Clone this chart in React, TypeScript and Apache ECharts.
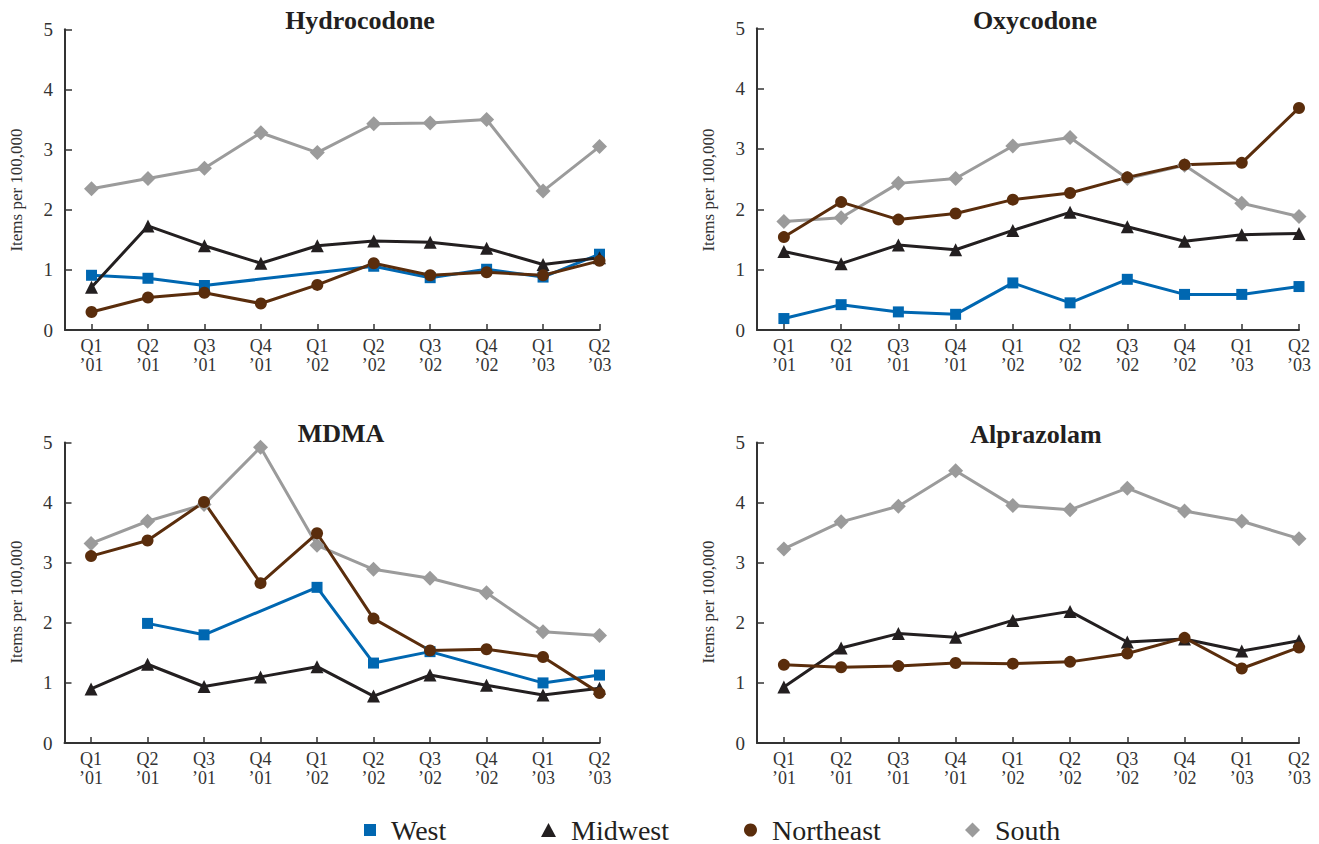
import React, { useEffect, useRef } from 'react';
import * as echarts from 'echarts';

const quarters = ['Q1\n\u201901', 'Q2\n\u201901', 'Q3\n\u201901', 'Q4\n\u201901', 'Q1\n\u201902', 'Q2\n\u201902', 'Q3\n\u201902', 'Q4\n\u201902', 'Q1\n\u201903', 'Q2\n\u201903'];
const yTicks = [0, 1, 2, 3, 4, 5];

// Hydrocodone
const hydroWest = [0.91, 0.86, 0.74, null, null, 1.06, 0.87, 1.01, 0.88, 1.26];
const hydroMidwest = [0.71, 1.73, 1.40, 1.11, 1.40, 1.48, 1.46, 1.36, 1.09, 1.20];
const hydroNortheast = [0.30, 0.54, 0.62, 0.44, 0.75, 1.11, 0.91, 0.96, 0.91, 1.15];
const hydroSouth = [2.35, 2.52, 2.69, 3.28, 2.95, 3.43, 3.44, 3.50, 2.31, 3.05];

// Oxycodone
const oxyWest = [0.19, 0.42, 0.30, 0.26, 0.78, 0.45, 0.84, 0.59, 0.59, 0.72];
const oxyMidwest = [1.30, 1.10, 1.41, 1.33, 1.65, 1.95, 1.71, 1.47, 1.58, 1.60];
const oxyNortheast = [1.54, 2.12, 1.83, 1.93, 2.16, 2.27, 2.53, 2.74, 2.77, 3.68];
const oxySouth = [1.80, 1.86, 2.43, 2.51, 3.05, 3.19, 2.51, 2.73, 2.10, 1.88];

// MDMA
const mdmaWest = [null, 1.99, 1.80, null, 2.59, 1.33, 1.52, null, 1.00, 1.13];
const mdmaMidwest = [0.90, 1.31, 0.94, 1.10, 1.27, 0.78, 1.13, 0.96, 0.80, 0.91];
const mdmaNortheast = [3.11, 3.37, 4.01, 2.66, 3.49, 2.07, 1.54, 1.56, 1.43, 0.83];
const mdmaSouth = [3.32, 3.69, 3.97, 4.92, 3.29, 2.89, 2.74, 2.50, 1.85, 1.79];

// Alprazolam
const alpMidwest = [0.93, 1.58, 1.82, 1.76, 2.04, 2.19, 1.68, 1.73, 1.53, 1.70];
const alpNortheast = [1.30, 1.26, 1.28, 1.33, 1.32, 1.35, 1.49, 1.75, 1.24, 1.59];
const alpSouth = [3.23, 3.68, 3.94, 4.53, 3.95, 3.88, 4.24, 3.86, 3.69, 3.40];

const titles = ['Hydrocodone', 'Oxycodone', 'MDMA', 'Alprazolam'];

const FONT = 'Liberation Serif';
const INK = '#231f20';
const AXIS = '#333333';

const regionStyle: Record<string, { color: string; symbol: string; size: number }> = {
  West: { color: '#0067b1', symbol: 'rect', size: 11 },
  Midwest: { color: '#231f20', symbol: 'triangle', size: 13 },
  Northeast: { color: '#5a2d0c', symbol: 'circle', size: 12 },
  South: { color: '#9b9b9b', symbol: 'diamond', size: 15 },
};

const panels = [
  { grid: { left: 65, top: 29.3, width: 534.5, height: 300.7 }, title: [360, 20], yName: [16, 190], data: { South: hydroSouth, West: hydroWest, Midwest: hydroMidwest, Northeast: hydroNortheast } },
  { grid: { left: 757, top: 28.3, width: 542, height: 301.7 }, title: [1035, 20], yName: [708, 190], data: { South: oxySouth, West: oxyWest, Midwest: oxyMidwest, Northeast: oxyNortheast } },
  { grid: { left: 64.5, top: 442.5, width: 535, height: 300.5 }, title: [341, 433], yName: [16, 602], data: { South: mdmaSouth, West: mdmaWest, Midwest: mdmaMidwest, Northeast: mdmaNortheast } },
  { grid: { left: 757, top: 442.5, width: 542, height: 300.5 }, title: [1036, 434], yName: [708, 602], data: { South: alpSouth, Midwest: alpMidwest, Northeast: alpNortheast } },
];

const legendPos = [
  { name: 'West', left: 359, w: 12, h: 12 },
  { name: 'Midwest', left: 536, w: 15, h: 14 },
  { name: 'Northeast', left: 739, w: 13, h: 13 },
  { name: 'South', left: 960, w: 15, h: 15 },
];

const App: React.FC = () => {
  const chartRef = useRef<HTMLDivElement>(null);

  useEffect(() => {
    if (!chartRef.current) return;
    const chart = echarts.init(chartRef.current, null, { renderer: 'svg' });

    const idx = quarters.map((_, i) => i);

    const option: any = {
      animation: false,
      backgroundColor: '#ffffff',
      textStyle: { fontFamily: FONT },
      grid: panels.map((p) => ({ ...p.grid, containLabel: false })),
      xAxis: panels.map((_, gi) => ({
        type: 'value',
        gridIndex: gi,
        min: -0.47,
        max: 9,
        splitLine: { show: false },
        axisLine: { show: true, onZero: false, lineStyle: { color: AXIS, width: 2 } },
        axisTick: { show: true, inside: true, length: 6, customValues: idx, lineStyle: { color: AXIS, width: 1.5 } },
        axisLabel: {
          customValues: idx,
          formatter: (v: number) => quarters[Math.round(v)],
          color: AXIS,
          fontFamily: FONT,
          fontSize: 18,
          lineHeight: 19,
          margin: 6,
        },
      })),
      yAxis: panels.map((_, gi) => ({
        type: 'value',
        gridIndex: gi,
        min: 0,
        max: 5,
        interval: 1,
        splitLine: { show: false },
        axisLine: { show: true, onZero: false, lineStyle: { color: AXIS, width: 2 } },
        axisTick: { show: true, inside: true, length: 7, lineStyle: { color: AXIS, width: 1.5 } },
        axisLabel: {
          color: AXIS,
          fontFamily: FONT,
          fontSize: 19,
          margin: 12,
          formatter: (v: number) => (yTicks.includes(v) ? String(v) : ''),
        },
      })),
      legend: legendPos.map((l) => ({
        data: [{ name: l.name, icon: regionStyle[l.name].symbol }],
        left: l.left,
        top: 810,
        itemWidth: l.w,
        itemHeight: l.h,
        selectedMode: false,
        textStyle: { fontFamily: FONT, fontSize: 28, color: INK, padding: [0, 0, 0, 10], lineHeight: 30 },
      })),
      series: panels.flatMap((p, gi) =>
        Object.entries(p.data).map(([name, vals]) => {
          const st = regionStyle[name];
          return {
            type: 'line',
            name,
            xAxisIndex: gi,
            yAxisIndex: gi,
            data: (vals as (number | null)[]).map((v, i) => [i, v]),
            connectNulls: true,
            symbol: st.symbol,
            symbolSize: st.size,
            showAllSymbol: true,
            color: st.color,
            lineStyle: { color: st.color, width: 3 },
            itemStyle: { color: st.color },
            emphasis: { disabled: true },
          };
        })
      ),
      graphic: [
        ...panels.map((p, i) => ({
          type: 'text',
          x: p.title[0],
          y: p.title[1],
          style: {
            text: titles[i],
            font: `bold 26px ${FONT}`,
            fill: INK,
            textAlign: 'center',
            textVerticalAlign: 'middle',
          },
        })),
        ...panels.map((p) => ({
          type: 'text',
          x: p.yName[0],
          y: p.yName[1],
          rotation: Math.PI / 2,
          style: {
            text: 'Items per 100,000',
            font: `17px ${FONT}`,
            fill: AXIS,
            textAlign: 'center',
            textVerticalAlign: 'middle',
          },
        })),
      ],
    };

    chart.setOption(option);

    return () => {
      chart.dispose();
    };
  }, []);

  return (
    <div
      ref={chartRef}
      style={{ position: 'absolute', left: 0, top: 0, width: '1319px', height: '844px' }}
    />
  );
};

export default App;
